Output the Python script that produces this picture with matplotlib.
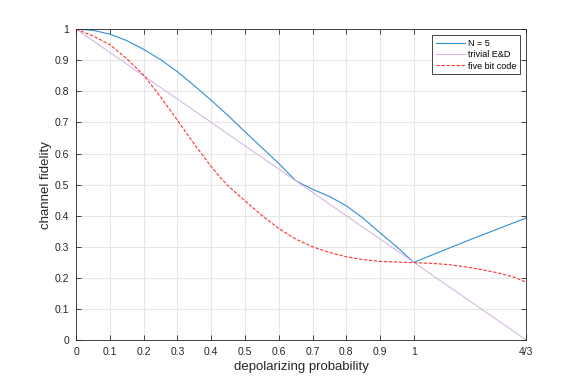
import matplotlib.pyplot as plt
import numpy as np

# values
p_n5 = [0, 0.05, 0.1, 0.15, 0.2, 0.25, 0.3, 0.35, 0.4, 0.45, 0.5, 0.55, 0.6, 0.651,
        0.7, 0.75, 0.8, 0.85, 0.9, 0.95, 1.0, 1.1667, 4/3]
f_n5 = [1.0, 0.996, 0.984, 0.963, 0.935, 0.902, 0.863, 0.818, 0.771, 0.722, 0.670, 0.619,
        0.568, 0.512, 0.485, 0.462, 0.432, 0.392, 0.345, 0.299, 0.25, 0.323, 0.393]

p_triv = [0, 4/3]
f_triv = [1.0, 0.0]

p_five = [0, 0.05, 0.1, 0.15, 0.2, 0.25, 0.3, 0.35, 0.4, 0.425, 0.45, 0.5, 0.55, 0.6, 0.65,
          0.7, 0.75, 0.8, 0.85, 0.9, 0.95, 1.0, 1.05, 1.1, 1.15, 1.2, 1.25, 1.3, 4/3]
f_five = [1.0, 0.978, 0.950, 0.905, 0.852, 0.782, 0.707, 0.630, 0.558, 0.525, 0.496, 0.448,
          0.401, 0.359, 0.325, 0.300, 0.282, 0.268, 0.259, 0.253, 0.251, 0.249, 0.247,
          0.243, 0.236, 0.227, 0.216, 0.201, 0.186]

xticks = [0, 0.1, 0.2, 0.3, 0.4, 0.5, 0.6, 0.7, 0.8, 0.9, 1, 4/3]
xticklabels = ['0', '0.1', '0.2', '0.3', '0.4', '0.5', '0.6', '0.7', '0.8', '0.9', '1', '4/3']
yticks = [0, 0.1, 0.2, 0.3, 0.4, 0.5, 0.6, 0.7, 0.8, 0.9, 1]
yticklabels = ['0', '0.1', '0.2', '0.3', '0.4', '0.5', '0.6', '0.7', '0.8', '0.9', '1']

plt.rcParams['font.family'] = ['Liberation Sans', 'DejaVu Sans']

fig = plt.figure(figsize=(5.81, 3.83), dpi=100)
ax = fig.add_axes([0.131, 0.112, 0.775, 0.812])
#sets up the figure like a matlab window

ax.plot(p_n5, f_n5, color='#2f8fd6', lw=0.8, label='N = 5')
ax.plot(p_triv, f_triv, color='#d7b9e3', lw=0.8, label='trivial E&D')
ax.plot(p_five, f_five, color='#ff3030', lw=0.8, ls=(0, (3, 1.5)), label='five bit code')
#plots the three curves

ax.set_xlim(0, 4/3)
ax.set_ylim(0, 1)
ax.set_xticks(xticks)
ax.set_xticklabels(xticklabels)
ax.set_yticks(yticks)
ax.set_yticklabels(yticklabels)
ax.grid(True, color='#e6e6e6', lw=0.8)
ax.set_axisbelow(True)
ax.tick_params(direction='in', top=True, right=True, length=3.5, width=0.6,
               labelsize=7.5, colors='#262626', pad=5)
for s in ax.spines.values():
    s.set_color('#262626')
    s.set_linewidth(0.6)

ax.set_xlabel('depolarizing probability', fontsize=9.5, color='#262626', labelpad=3)
ax.set_ylabel('channel fidelity', fontsize=9.5, color='#262626', labelpad=2)
#axis labels and ticks

leg = ax.legend(loc='upper right', fontsize=6.5, fancybox=False, framealpha=1,
                edgecolor='#262626', handlelength=3.3, handletextpad=0.3,
                borderpad=0.4, labelspacing=0.25, borderaxespad=0.7)
leg.get_frame().set_linewidth(0.6)

fig.savefig('out.png', dpi=100)
